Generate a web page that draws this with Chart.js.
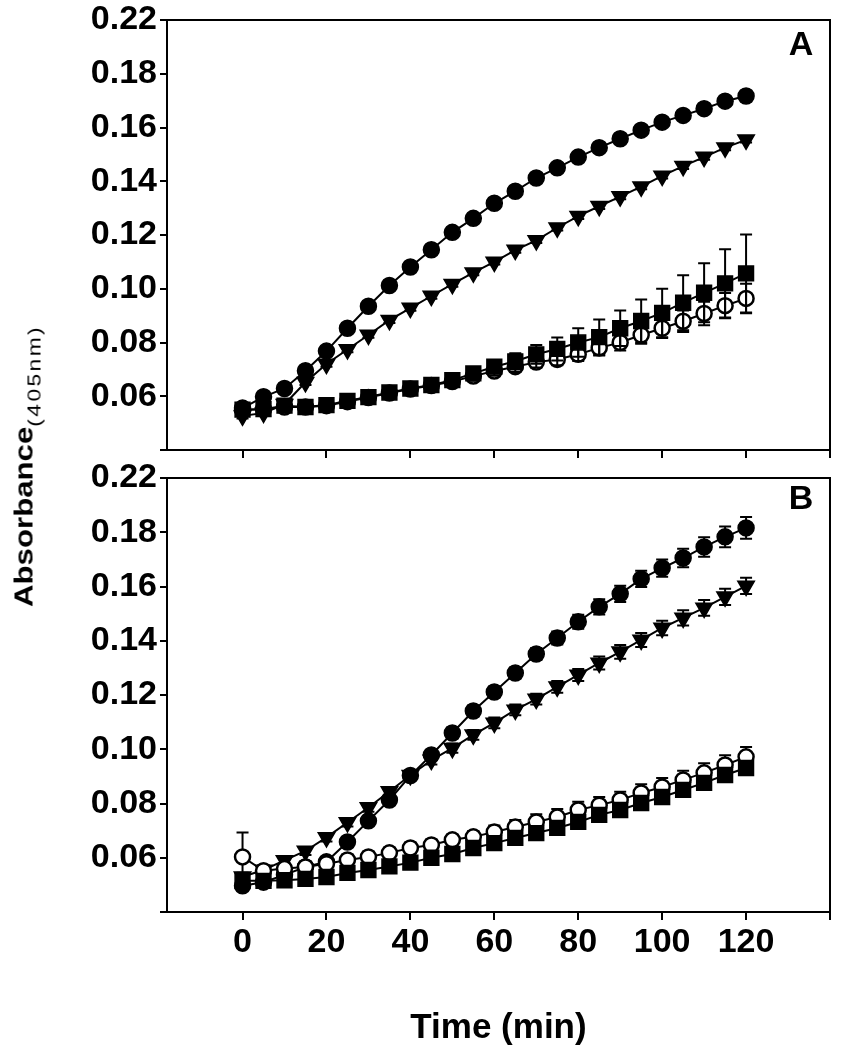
<!DOCTYPE html>
<html>
<head>
<meta charset="utf-8">
<script src="https://cdn.jsdelivr.net/npm/chart.js@4.4.1/dist/chart.umd.min.js"></script>
<style>
  html, body { margin: 0; padding: 0; background: #fff; }
  #wrap { position: relative; width: 842px; height: 1050px; overflow: hidden; }
  canvas { position: absolute; left: 0; }
  #cA { top: 0; }
  #cB { top: 440px; }
  #ytitle {
    position: absolute; left: 24px; top: 466px;
    transform-origin: 0 0;
    transform: rotate(-90deg) scaleX(1.2) translate(-50%, -50%);
    white-space: nowrap; color: #000;
    font-family: "Liberation Sans", Arial, sans-serif; font-weight: bold; font-size: 26px;
  }
  #ytitle span { font-weight: normal; font-size: 19px; letter-spacing: 2px; position: relative; top: 8px; }
</style>
</head>
<body>
<div id="wrap">
  <canvas id="cA" width="842" height="470"></canvas>
  <canvas id="cB" width="842" height="610"></canvas>
  <div id="ytitle">Absorbance<span>(405nm)</span></div>
</div>
<script>
// time points (min)
const times = [0, 5, 10, 15, 20, 25, 30, 35, 40, 45, 50, 55, 60, 65, 70, 75, 80, 85, 90, 95, 100, 105, 110, 115, 120];
const xTickLabels = ["0", "20", "40", "60", "80", "100", "120"];
const yTickLabels = ["", "0.06", "0.08", "0.10", "0.12", "0.14", "0.16", "0.18", "0.22"];

// panel A
const aFilledCircle = [0.0556, 0.0598, 0.0629, 0.0695, 0.0768, 0.0853, 0.0935, 0.1012, 0.1081, 0.1145, 0.1210, 0.1262, 0.1318, 0.1363, 0.1412, 0.1450, 0.1490, 0.1525, 0.1558, 0.1590, 0.1620, 0.1645, 0.1670, 0.1698, 0.1717];
const aTriangle = [0.0527, 0.0538, 0.0570, 0.0652, 0.0720, 0.0774, 0.0828, 0.0883, 0.0928, 0.0973, 0.1017, 0.1060, 0.1100, 0.1144, 0.1180, 0.1227, 0.1270, 0.1307, 0.1343, 0.1380, 0.1420, 0.1456, 0.1490, 0.1525, 0.1554];
const aSquare = [0.0550, 0.0552, 0.0565, 0.0560, 0.0567, 0.0583, 0.0597, 0.0614, 0.0629, 0.0642, 0.0660, 0.0685, 0.0710, 0.0730, 0.0756, 0.0776, 0.0800, 0.0820, 0.0853, 0.0880, 0.0910, 0.0948, 0.0985, 0.1020, 0.1057];
const aOpenCircle = [0.0550, 0.0552, 0.0560, 0.0560, 0.0565, 0.0580, 0.0595, 0.0612, 0.0627, 0.0640, 0.0655, 0.0675, 0.0694, 0.0710, 0.0727, 0.0737, 0.0756, 0.0780, 0.0800, 0.0828, 0.0853, 0.0879, 0.0908, 0.0937, 0.0964];
const aFilledCircleErr = [0.0015, 0.0015, 0.0015, 0.0015, 0.0015, 0.0015, 0.0015, 0.0015, 0.0015, 0.0015, 0.0015, 0.0015, 0.0015, 0.0015, 0.0015, 0.0015, 0.0015, 0.0015, 0.0015, 0.0015, 0.0015, 0.0016, 0.0017, 0.0018, 0.0020];
const aTriangleErr = [0.001, 0.001, 0.001, 0.001, 0.001, 0.001, 0.001, 0.001, 0.001, 0.001, 0.001, 0.001, 0.001, 0.001, 0.001, 0.001, 0.001, 0.001, 0.001, 0.001, 0.001, 0.001, 0.001, 0.001, 0.001];
const aSquareErr = [0.001, 0.001, 0.001, 0.001, 0.001, 0.0012, 0.0012, 0.0014, 0.0015, 0.0017, 0.002, 0.0022, 0.0025, 0.003, 0.0035, 0.0043, 0.0053, 0.0066, 0.0066, 0.008, 0.009, 0.0102, 0.011, 0.0127, 0.0145];
const aOpenCircleErr = [0.001, 0.001, 0.001, 0.001, 0.001, 0.001, 0.001, 0.0012, 0.0012, 0.0014, 0.0015, 0.0017, 0.0018, 0.002, 0.002, 0.0022, 0.0025, 0.0028, 0.003, 0.0033, 0.0036, 0.004, 0.0044, 0.0047, 0.0055];

// panel B
const bFilledCircle = [0.0497, 0.0510, 0.0537, 0.0566, 0.0585, 0.0658, 0.0736, 0.0813, 0.0903, 0.0979, 0.1060, 0.1141, 0.1211, 0.1281, 0.1351, 0.1410, 0.1470, 0.1525, 0.1573, 0.1628, 0.1668, 0.1705, 0.1746, 0.1783, 0.1816];
const bTriangle = [0.0530, 0.0555, 0.0590, 0.0625, 0.0675, 0.0730, 0.0785, 0.0844, 0.0904, 0.0960, 0.1004, 0.1053, 0.1097, 0.1145, 0.1185, 0.1230, 0.1274, 0.1318, 0.1359, 0.1403, 0.1447, 0.1484, 0.1521, 0.1562, 0.1602];
const bSquare = [0.0515, 0.0515, 0.0517, 0.0522, 0.0529, 0.0544, 0.0555, 0.0568, 0.0582, 0.0600, 0.0614, 0.0636, 0.0654, 0.0673, 0.0691, 0.0710, 0.0732, 0.0758, 0.0776, 0.0802, 0.0824, 0.0850, 0.0876, 0.0905, 0.0931];
const bOpenCircle = [0.0603, 0.0552, 0.0560, 0.0566, 0.0578, 0.0592, 0.0603, 0.0618, 0.0636, 0.0647, 0.0666, 0.0677, 0.0695, 0.0713, 0.0732, 0.0750, 0.0776, 0.0794, 0.0813, 0.0839, 0.0861, 0.0887, 0.0913, 0.0942, 0.0972];
const bFilledCircleErr = [0.0015, 0.0015, 0.0015, 0.0015, 0.0015, 0.0015, 0.0015, 0.0015, 0.0015, 0.0018, 0.002, 0.002, 0.002, 0.002, 0.0022, 0.0024, 0.0026, 0.0028, 0.003, 0.003, 0.0032, 0.0034, 0.0036, 0.0038, 0.004];
const bTriangleErr = [0.0015, 0.0015, 0.0015, 0.0015, 0.0015, 0.0015, 0.0015, 0.0015, 0.0015, 0.0016, 0.0017, 0.0018, 0.002, 0.002, 0.002, 0.0022, 0.0022, 0.0024, 0.0025, 0.0026, 0.0027, 0.0028, 0.0029, 0.003, 0.003];
const bSquareErr = [0.0015, 0.0015, 0.0015, 0.0015, 0.0015, 0.0015, 0.0015, 0.0015, 0.0015, 0.0015, 0.0015, 0.0015, 0.0015, 0.0015, 0.0015, 0.0015, 0.0015, 0.0015, 0.0015, 0.0015, 0.0015, 0.0015, 0.0015, 0.0015, 0.0015];
const bOpenCircleErr = [0.009, 0.002, 0.002, 0.002, 0.002, 0.002, 0.002, 0.002, 0.002, 0.002, 0.002, 0.0022, 0.0024, 0.0026, 0.0028, 0.003, 0.003, 0.003, 0.003, 0.0032, 0.0033, 0.0034, 0.0035, 0.0036, 0.0036];

const FONT = '"Liberation Sans", Arial, Helvetica, sans-serif';

// error bars, drawn right after (or before) each dataset
const errorBars = {
  id: 'errorBars',
  beforeDatasetDraw(chart, args, opts) { if (opts.behind) drawBars(chart, args.index); },
  afterDatasetDraw(chart, args, opts) { if (!opts.behind) drawBars(chart, args.index); }
};
function drawBars(chart, index) {
  const ds = chart.data.datasets[index];
  if (!ds.errors) return;
  const ctx = chart.ctx, xs = chart.scales.x, ys = chart.scales.y;
  ctx.save();
  ctx.strokeStyle = '#000';
  ctx.lineWidth = 2;
  ds.data.forEach((p, i) => {
    const e = ds.errors[i];
    const px = xs.getPixelForValue(p.x);
    const top = ys.getPixelForValue(p.y + e);
    const bot = ys.getPixelForValue(p.y - e);
    ctx.beginPath();
    ctx.moveTo(px, top); ctx.lineTo(px, bot);
    ctx.moveTo(px - 6, top); ctx.lineTo(px + 6, top);
    ctx.moveTo(px - 6, bot); ctx.lineTo(px + 6, bot);
    ctx.stroke();
  });
  ctx.restore();
}

// box round the plot and the panel letter
const frame = {
  id: 'frame',
  afterDraw(chart, args, opts) {
    const ctx = chart.ctx, a = chart.chartArea;
    ctx.save();
    ctx.strokeStyle = '#000';
    ctx.lineWidth = 2;
    ctx.strokeRect(a.left, a.top, a.right - a.left, a.bottom - a.top);
    ctx.fillStyle = '#000';
    ctx.font = 'bold 34px ' + FONT;
    ctx.textAlign = 'center';
    ctx.textBaseline = 'middle';
    ctx.fillText(opts.label, a.right - 29, a.top + opts.dy);
    ctx.restore();
  }
};

function series(values, errors, style) {
  return Object.assign({
    data: values.map((v, i) => ({ x: times[i], y: v })),
    errors: errors,
    showLine: true,
    borderColor: '#000',
    borderWidth: 2,
    tension: 0,
    pointBorderColor: '#000',
    pointBorderWidth: 1.5,
    pointHoverRadius: 0
  }, style);
}

const squareStyle = { pointStyle: 'rect', pointRadius: 10.5, pointBackgroundColor: '#000' };
const openCircleStyle = { pointStyle: 'circle', pointRadius: 7.5, pointBackgroundColor: '#fff', pointBorderWidth: 2.5 };
const triangleStyle = { pointStyle: 'triangle', pointRotation: 180, pointRadius: 9.5, pointBackgroundColor: '#000' };
const filledCircleStyle = { pointStyle: 'circle', pointRadius: 8, pointBackgroundColor: '#000' };

function panel(id, datasets, o) {
  return new Chart(document.getElementById(id), {
    type: 'scatter',
    data: { datasets: datasets },
    plugins: [errorBars, frame],
    options: {
      responsive: false,
      animation: false,
      devicePixelRatio: 1,
      layout: { padding: { top: o.padTop, right: 6, left: 0, bottom: 0 } },
      plugins: {
        legend: { display: false },
        tooltip: { enabled: false },
        errorBars: { behind: o.behind },
        frame: { label: o.label, dy: o.labelDy }
      },
      scales: {
        x: {
          type: 'linear', min: -18, max: 140,
          afterFit: s => { s.height = o.xHeight; },
          border: { color: '#000', width: 2 },
          grid: { drawOnChartArea: false, color: '#000', lineWidth: 2, tickLength: 8 },
          ticks: {
            stepSize: 20, includeBounds: false, autoSkip: false, maxRotation: 0, padding: 2,
            color: '#000', font: { family: FONT, size: 34, weight: 'bold' },
            callback: v => (o.xLabels && xTickLabels.includes(String(v))) ? String(v) : ''
          },
          title: {
            display: o.xLabels, text: 'Time (min)', color: '#000',
            font: { family: FONT, size: 35, weight: 'bold' },
            padding: { top: 0, bottom: 1 }
          }
        },
        y: {
          min: 0.04, max: 0.20,
          afterFit: s => { s.width = 167; },
          border: { color: '#000', width: 2 },
          grid: { drawOnChartArea: false, color: '#000', lineWidth: 2, tickLength: 7 },
          ticks: {
            stepSize: 0.02, padding: 3, color: '#000',
            font: { family: FONT, size: 34, weight: 'bold', lineHeight: 1 },
            callback: (v, i) => yTickLabels[i]
          }
        }
      }
    }
  });
}

panel('cA', [
  series(aSquare, aSquareErr, squareStyle),
  series(aOpenCircle, aOpenCircleErr, openCircleStyle),
  series(aTriangle, aTriangleErr, triangleStyle),
  series(aFilledCircle, aFilledCircleErr, filledCircleStyle)
], { padTop: 17, xHeight: 13, xLabels: false, behind: false, label: 'A', labelDy: 26 });

panel('cB', [
  series(bSquare, bSquareErr, squareStyle),
  series(bOpenCircle, bOpenCircleErr, openCircleStyle),
  series(bTriangle, bTriangleErr, triangleStyle),
  series(bFilledCircle, bFilledCircleErr, filledCircleStyle)
], { padTop: 38, xHeight: 138, xLabels: true, behind: true, label: 'B', labelDy: 22 });
</script>
</body>
</html>
